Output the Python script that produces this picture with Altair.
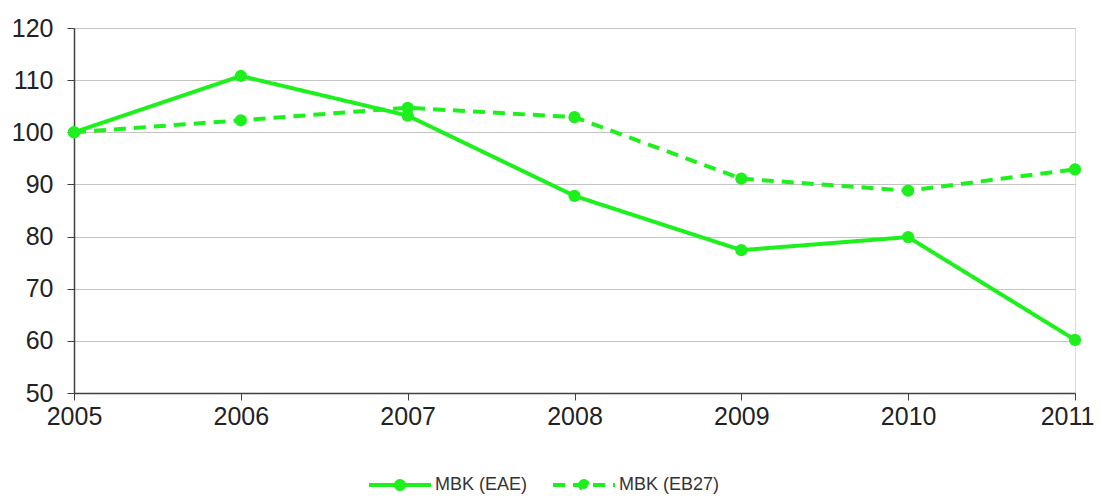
import altair as alt
import pandas as pd

years = [2005, 2006, 2007, 2008, 2009, 2010, 2011]
eae = [100.0, 110.8, 103.2, 87.8, 77.4, 79.9, 60.2]
eb27 = [100.0, 102.3, 104.7, 102.9, 91.1, 88.8, 92.9]
series_names = ["MBK (EAE)", "MBK (EB27)"]

rows = []
for name, vals in zip(series_names, [eae, eb27]):
    for y, v in zip(years, vals):
        rows.append({"year": y, "value": v, "series": name})
df = pd.DataFrame(rows)

GREEN = "#1EF01E"
FONT = "Liberation Sans"

# legend glyph: a line with a dot, wider than the nominal symbol box
sym_path = "M-3.1,0H3.1M-0.4,0A0.4,0.4 0 1,1 0.4,0A0.4,0.4 0 1,1 -0.4,0Z"

x = alt.X("year:Q", scale=alt.Scale(domain=[2005, 2011], nice=False, zero=False),
          axis=alt.Axis(values=years, format="d", title=None, grid=False,
                        labelFontSize=25, labelColor="#222222", labelFont=FONT,
                        domainColor="#404040", domainWidth=1.5, tickColor="#404040",
                        tickSize=7, labelPadding=4, labelFlush=False,
                        labelOffset={"condition": {"test": "datum.value == 2011", "value": -8}, "value": 0}))
y = alt.Y("value:Q", scale=alt.Scale(domain=[50, 120], nice=False, zero=False),
          axis=alt.Axis(values=[50, 60, 70, 80, 90, 100, 110, 120], title=None,
                        grid=True, gridColor="#c4c4c4", gridWidth=1.2,
                        labelFontSize=25, labelColor="#222222", labelFont=FONT,
                        domainColor="#404040", domainWidth=1.5, tickColor="#404040",
                        tickSize=7, labelPadding=14))

lines = alt.Chart(df).mark_line(strokeWidth=4, color=GREEN).encode(
    x=x, y=y,
    strokeDash=alt.StrokeDash("series:N",
        scale=alt.Scale(domain=series_names, range=[[1, 0], [12, 8]]),
        legend=alt.Legend(title=None, orient="none", direction="horizontal",
                          legendX=314, legendY=445,
                          symbolType=sym_path, symbolSize=400,
                          symbolStrokeWidth=4, symbolStrokeColor=GREEN,
                          symbolFillColor=GREEN, labelFontSize=18,
                          labelFont=FONT, labelColor="#333333",
                          columnPadding=17, labelOffset=23))
)
points = alt.Chart(df).mark_circle(size=150, color=GREEN, opacity=1).encode(
    x=x, y=y, detail="series:N"
)

chart = (lines + points).properties(
    width=1001, height=365,
    autosize=alt.AutoSizeParams(type="none"),
    padding={"left": 66, "top": 20, "right": 19, "bottom": 103},
).configure_view(stroke="#a6a6a6", strokeWidth=1.2).configure(background="white")

chart.save("out.html", embed_options={"renderer": "svg", "actions": False})
